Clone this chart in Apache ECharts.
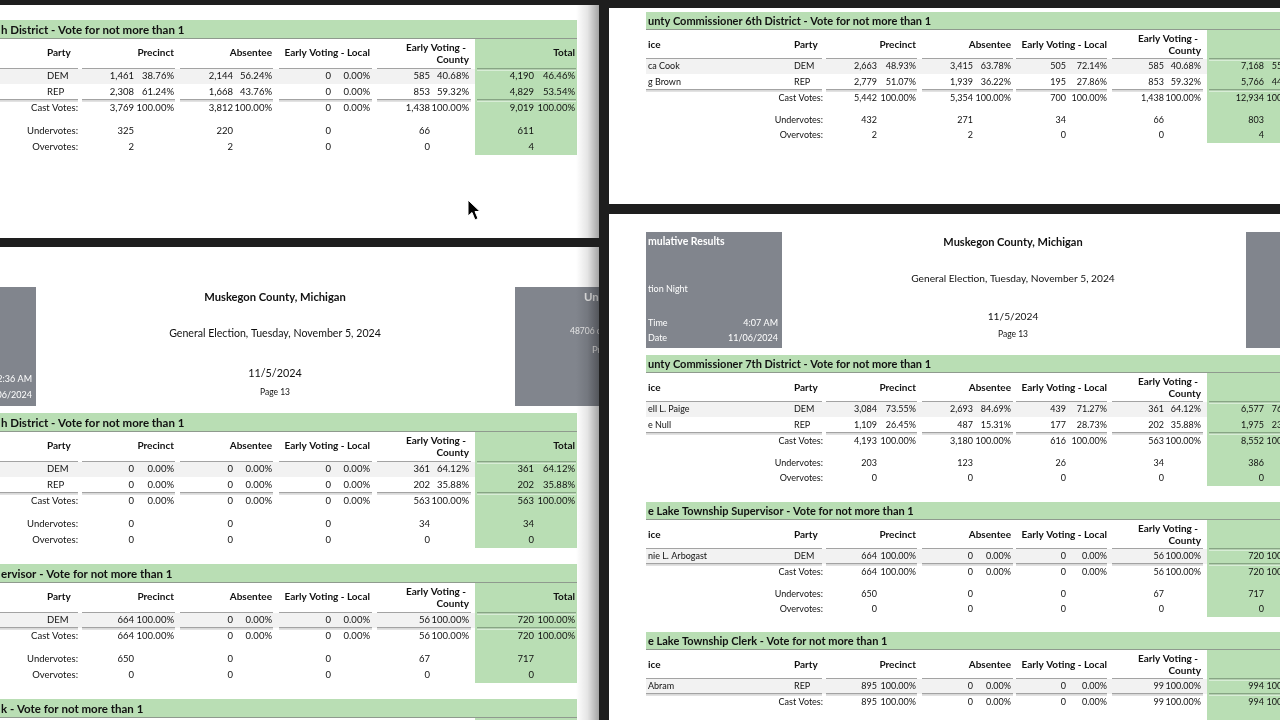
<!DOCTYPE html>
<html><head><meta charset="utf-8">
<script src="https://cdn.jsdelivr.net/npm/echarts@6/dist/echarts.min.js"></script>
<style>html,body{margin:0;padding:0;background:#1e1e1e;}#c{width:1280px;height:720px;}</style>
</head><body><div id="c"></div>
<script>
// ---------- DATA ----------
const headerCols = ['Precinct', 'Absentee', 'Early Voting - Local', 'Early Voting -|County', 'Total'];
const countyName = 'Muskegon County, Michigan';
const electionName = 'General Election, Tuesday, November 5, 2024';
const reportDate = '11/5/2024';
const pageLabel = 'Page 13';

// Left page, first contest (each row: precinct, %, absentee, %, EV local, %, EV county, %, total, %)
const A_title = 'h District - Vote for not more than 1';
const A_parties = ['DEM', 'REP'];
const A_dem = [1461, 38.76, 2144, 56.24, 0, 0.00, 585, 40.68, 4190, 46.46];
const A_rep = [2308, 61.24, 1668, 43.76, 0, 0.00, 853, 59.32, 4829, 53.54];
const A_cast = [3769, 100, 3812, 100, 0, 0.00, 1438, 100, 9019, 100];
const A_under = [325, 220, 0, 66, 611];
const A_over = [2, 2, 0, 0, 4];

// Left page, second contest
const B_title = 'h District - Vote for not more than 1';
const B_parties = ['DEM', 'REP'];
const B_dem = [0, 0, 0, 0, 0, 0, 361, 64.12, 361, 64.12];
const B_rep = [0, 0, 0, 0, 0, 0, 202, 35.88, 202, 35.88];
const B_cast = [0, 0, 0, 0, 0, 0, 563, 100, 563, 100];
const B_under = [0, 0, 0, 34, 34];
const B_over = [0, 0, 0, 0, 0];

// Left page, third contest
const C_title = 'ervisor - Vote for not more than 1';
const C_parties = ['DEM'];
const C_dem = [664, 100, 0, 0, 0, 0, 56, 100, 720, 100];
const C_cast = [664, 100, 0, 0, 0, 0, 56, 100, 720, 100];
const C_under = [650, 0, 0, 67, 717];
const C_over = [0, 0, 0, 0, 0];

// Left page, fourth contest (title only visible)
const D_title = 'k - Vote for not more than 1';

// Right page, County Commissioner 6th District
const E_title = 'unty Commissioner 6th District - Vote for not more than 1';
const E_names = ['ca Cook', 'g Brown'];
const E_parties = ['DEM', 'REP'];
const E_dem = [2663, 48.93, 3415, 63.78, 505, 72.14, 585, 40.68, 7168, 55.42];
const E_rep = [2779, 51.07, 1939, 36.22, 195, 27.86, 853, 59.32, 5766, 44.58];
const E_cast = [5442, 100, 5354, 100, 700, 100, 1438, 100, 12934, 100];
const E_under = [432, 271, 34, 66, 803];
const E_over = [2, 2, 0, 0, 4];

// Right page, County Commissioner 7th District
const F_title = 'unty Commissioner 7th District - Vote for not more than 1';
const F_names = ['ell L. Paige', 'e Null'];
const F_parties = ['DEM', 'REP'];
const F_dem = [3084, 73.55, 2693, 84.69, 439, 71.27, 361, 64.12, 6577, 76.91];
const F_rep = [1109, 26.45, 487, 15.31, 177, 28.73, 202, 35.88, 1975, 23.09];
const F_cast = [4193, 100, 3180, 100, 616, 100, 563, 100, 8552, 100];
const F_under = [203, 123, 26, 34, 386];
const F_over = [0, 0, 0, 0, 0];

// Right page, Township Supervisor
const G_title = 'e Lake Township Supervisor - Vote for not more than 1';
const G_names = ['nie L. Arbogast'];
const G_parties = ['DEM'];
const G_dem = [664, 100, 0, 0, 0, 0, 56, 100, 720, 100];
const G_cast = [664, 100, 0, 0, 0, 0, 56, 100, 720, 100];
const G_under = [650, 0, 0, 67, 717];
const G_over = [0, 0, 0, 0, 0];

// Right page, Township Clerk
const H_title = 'e Lake Township Clerk - Vote for not more than 1';
const H_names = ['Abram'];
const H_parties = ['REP'];
const H_rep = [895, 100, 0, 0, 0, 0, 99, 100, 994, 100];
const H_cast = [895, 100, 0, 0, 0, 0, 99, 100, 994, 100];

// Header boxes
const leftBoxLines = ['2:36 AM', '11/06/2024'];
const leftBox2Lines = ['Unofficial Results', '48706 of 141236 registered voters', 'Precincts Reporting'];
const rightBoxTitle = 'mulative Results';
const rightBoxSub = 'tion Night';
const rightBoxRows = [['Time', '4:07 AM'], ['Date', '11/06/2024']];

// ---------- RENDER ----------
const FONT = "Lato,'Liberation Sans',Arial,sans-serif";
const GREEN = '#b9deb4';
const BOXGREY = '#81858d';
const DARK = '#1e1e1e';
const INK = '#111111';
const els = [];
function rect(x, y, w, h, fill) {
  els.push({ type: 'rect', silent: true, z: els.length, shape: { x: x, y: y, width: w, height: h }, style: { fill: fill } });
}
function txt(s, x, y, size, opt) {
  opt = opt || {};
  const align = opt.align || 'left';
  els.push({ type: 'text', silent: true, z: els.length, x: x, y: y,
    style: { text: s, fill: opt.color || INK, font: (opt.bold ? 'bold ' : '') + size + 'px ' + FONT,
      align: align, textAlign: align, verticalAlign: 'middle', textVerticalAlign: 'middle' } });
}
const fmtN = v => Number(v).toLocaleString('en-US');
const fmtP = v => Number(v).toFixed(2) + '%';

const LEFT = { x0: 0, x1: 577, green: 475, titleH: 18, fT: 11.5, fH: 10, fB: 9.5,
  partyX: 47, labelR: 78, cntR: [134, 233, 331, 430, 534], pctR: [174, 272, 370, 469, 575], headTotal: 575,
  segs: [[0, 78], [82, 175], [180, 273], [279, 372], [377, 471]], tseg: [477, 576],
  row1: 56, step: 16, ug: 23, og: 39, h1: 33, h2a: 28, h2b: 40, ul: 48, titleX: 1, nameX: null };
const RIGHT = { x0: 646, x1: 1290, green: 1207, titleH: 17, fT: 11, fH: 10, fB: 9,
  partyX: 794, labelR: 823, cntR: [877, 973, 1066, 1164, 1264], pctR: [916, 1011, 1107, 1201, 1302], headTotal: 1330,
  segs: [[646, 822], [826, 917], [922, 1013], [1016, 1107], [1112, 1203]], tseg: [1209, 1290],
  row1: 54, step: 16, ug: 22, og: 37, h1: 33, h2a: 27, h2b: 39, ul: 46, titleX: 648, nameX: 648 };

function dline(x1, x2, y, onGreen) {
  rect(x1, y, x2 - x1, 1.5, onGreen ? 'rgba(60,80,60,0.4)' : '#a3a3a3');
  rect(x1, y + 1.5, x2 - x1, 1.5, onGreen ? 'rgba(255,255,255,0.45)' : '#e2e2e2');
}

function contest(L, T, title, names, parties, rows, cast, under, over) {
  rect(L.x0, T, L.x1 - L.x0, L.titleH, GREEN);
  rect(L.x0, T + L.titleH, L.x1 - L.x0, 1, '#8f9a8e');
  txt(title, L.titleX, T + L.titleH / 2 + 1, L.fT, { bold: true });
  if (!parties) { rect(L.green, T + L.titleH + 1, L.x1 - L.green, 720, GREEN); return; }
  const nRows = rows.length;
  const castY = T + L.row1 + L.step * nRows;
  const endY = under ? castY + L.og + 8 : 720;
  rect(L.green, T + L.titleH + 1, L.x1 - L.green, endY - (T + L.titleH + 1), GREEN);
  if (L.nameX !== null) txt('ice', L.nameX, T + L.h1, L.fH, { bold: true });
  txt('Party', L.partyX, T + L.h1, L.fH, { bold: true });
  headerCols.forEach((h, i) => {
    const parts = h.split('|');
    const hx = i === 4 ? L.headTotal : L.pctR[i];
    if (parts.length === 2) {
      txt(parts[0], hx - 3, T + L.h2a, L.fH, { bold: true, align: 'right' });
      txt(parts[1], hx, T + L.h2b, L.fH, { bold: true, align: 'right' });
    } else {
      txt(h, hx, T + L.h1, L.fH, { bold: true, align: 'right' });
    }
  });
  L.segs.forEach(s => dline(s[0], s[1], T + L.ul, false));
  dline(L.tseg[0], L.tseg[1], T + L.ul, true);
  rows.forEach((r, k) => {
    const y = T + L.row1 + L.step * k;
    if (k % 2 === 0) rect(L.x0, y - 7, L.green - L.x0, 15, '#f2f2f2');
    if (names) txt(names[k], L.nameX, y, L.fB);
    txt(parties[k], L.partyX, y, L.fB);
    for (let c = 0; c < 5; c++) {
      txt(fmtN(r[2 * c]), L.cntR[c], y, L.fB, { align: 'right' });
      txt(fmtP(r[2 * c + 1]), L.pctR[c], y, L.fB, { align: 'right' });
    }
  });
  const lineY = castY - 9;
  L.segs.forEach(s => dline(s[0], s[1], lineY, false));
  dline(L.tseg[0], L.tseg[1], lineY, true);
  txt('Cast Votes:', L.labelR, castY, L.fB, { align: 'right' });
  for (let c = 0; c < 5; c++) {
    txt(fmtN(cast[2 * c]), L.cntR[c], castY, L.fB, { align: 'right' });
    txt(fmtP(cast[2 * c + 1]), L.pctR[c], castY, L.fB, { align: 'right' });
  }
  if (under) {
    txt('Undervotes:', L.labelR, castY + L.ug, L.fB, { align: 'right' });
    txt('Overvotes:', L.labelR, castY + L.og, L.fB, { align: 'right' });
    for (let c = 0; c < 5; c++) {
      txt(fmtN(under[c]), L.cntR[c], castY + L.ug, L.fB, { align: 'right' });
      txt(fmtN(over[c]), L.cntR[c], castY + L.og, L.fB, { align: 'right' });
    }
  }
}

function pageHeader(cx, boxTop, dy, sizes) {
  txt(countyName, cx, boxTop + dy[0], sizes[0], { bold: true, align: 'center' });
  txt(electionName, cx, boxTop + dy[1], sizes[1], { align: 'center' });
  txt(reportDate, cx, boxTop + dy[2], sizes[2], { align: 'center' });
  txt(pageLabel, cx, boxTop + dy[3], sizes[3], { align: 'center' });
}

// ---- left window ----
rect(0, 5, 599, 233, '#ffffff');
rect(0, 247, 599, 473, '#ffffff');
contest(LEFT, 20, A_title, null, A_parties, [A_dem, A_rep], A_cast, A_under, A_over);
rect(0, 287, 36, 119, BOXGREY);
txt(leftBoxLines[0], 32, 379, 9, { color: '#ffffff', align: 'right' });
txt(leftBoxLines[1], 32, 395, 9, { color: '#ffffff', align: 'right' });
rect(515, 287, 90, 119, BOXGREY);
txt(leftBox2Lines[0], 584, 297, 11.5, { color: '#e8e8e8', bold: true });
txt(leftBox2Lines[1], 570, 331, 8.5, { color: '#e8e8e8' });
txt(leftBox2Lines[2], 592, 350, 9.5, { color: '#e8e8e8' });
pageHeader(275, 287, [10, 47, 87, 105], [11.2, 10.6, 10.8, 8.5]);
contest(LEFT, 413, B_title, null, B_parties, [B_dem, B_rep], B_cast, B_under, B_over);
contest(LEFT, 564, C_title, null, C_parties, [C_dem], C_cast, C_under, C_over);
contest(LEFT, 699, D_title, null, null);
els.push({ type: 'polygon', silent: true, z: els.length,
  shape: { points: [[468, 200], [468, 216], [472, 212.5], [475, 220], [478, 218.5], [475, 211.5], [480, 211.5]] },
  style: { fill: '#000000', stroke: '#ffffff', lineWidth: 1 } });
const shade = new echarts.graphic.LinearGradient(0, 0, 1, 0, [
  { offset: 0, color: 'rgba(0,0,0,0)' }, { offset: 0.5, color: 'rgba(0,0,0,0.1)' }, { offset: 1, color: 'rgba(0,0,0,0.36)' }]);
els.push({ type: 'rect', silent: true, z: els.length, shape: { x: 576, y: 5, width: 23, height: 233 }, style: { fill: shade } });
els.push({ type: 'rect', silent: true, z: els.length, shape: { x: 576, y: 247, width: 23, height: 473 }, style: { fill: shade } });

// ---- right window ----
rect(599, 0, 681, 720, DARK);
rect(609, 8, 671, 196, '#ffffff');
rect(609, 214, 671, 506, '#ffffff');
contest(RIGHT, 12, E_title, E_names, E_parties, [E_dem, E_rep], E_cast, E_under, E_over);
rect(646, 232, 136, 116, BOXGREY);
txt(rightBoxTitle, 648, 242, 10.5, { color: '#ffffff', bold: true });
txt(rightBoxSub, 648, 289, 9, { color: '#ffffff' });
rightBoxRows.forEach((r, i) => {
  txt(r[0], 648, 323 + 15 * i, 9, { color: '#ffffff' });
  txt(r[1], 778, 323 + 15 * i, 9, { color: '#ffffff', align: 'right' });
});
rect(1246, 232, 40, 116, BOXGREY);
pageHeader(1013, 232, [10, 47, 85, 102], [11, 10.2, 10.2, 8.5]);
contest(RIGHT, 355, F_title, F_names, F_parties, [F_dem, F_rep], F_cast, F_under, F_over);
contest(RIGHT, 502, G_title, G_names, G_parties, [G_dem], G_cast, G_under, G_over);
contest(RIGHT, 632, H_title, H_names, H_parties, [H_rep], H_cast, null, null);
rect(0, 0, 599, 5, DARK);
rect(0, 238, 599, 9, DARK);
rect(599, 0, 10, 720, DARK);
rect(609, 0, 671, 8, DARK);
rect(609, 204, 671, 10, DARK);

const chart = echarts.init(document.getElementById('c'), null, { renderer: 'canvas', width: 1280, height: 720 });
chart.setOption({ backgroundColor: DARK, animation: false, graphic: { elements: els } });
</script></body></html>
